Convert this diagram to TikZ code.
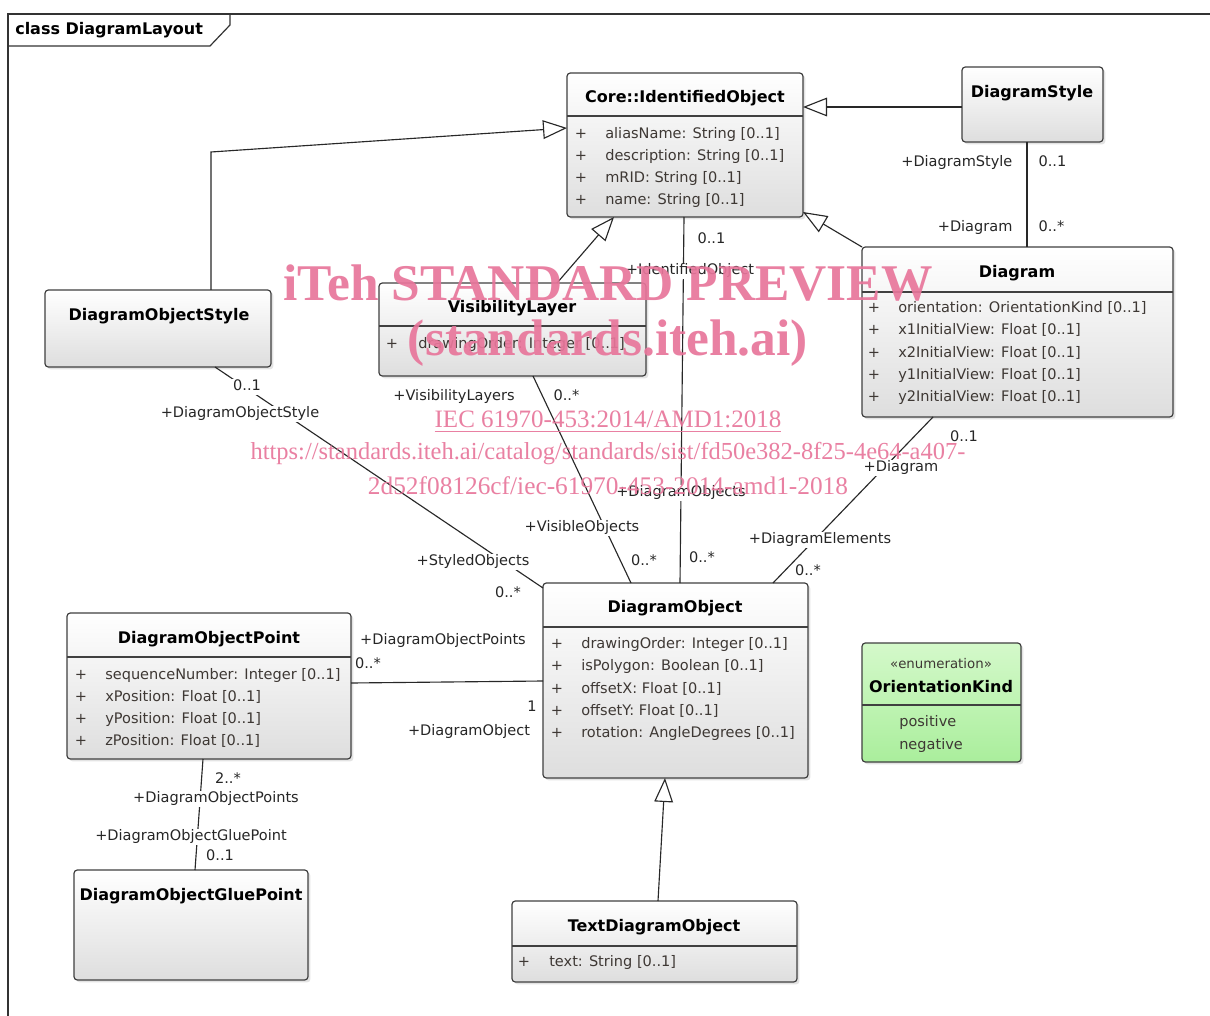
\documentclass[tikz,border=0pt]{standalone}
\usepackage{fontspec}
\setmainfont{DejaVu Sans}
\newfontfamily\wmfont{Liberation Serif}
\usetikzlibrary{arrows.meta,shadows,fit}

\definecolor{wm}{RGB}{232,118,155}
\definecolor{attrc}{RGB}{62,56,52}
\definecolor{boxline}{RGB}{64,64,64}
\definecolor{lnc}{RGB}{40,40,40}
\definecolor{gtop}{RGB}{212,249,202}
\definecolor{gbot}{RGB}{170,238,156}

\tikzset{
  cls/.style={draw=boxline, line width=0.9pt, rounded corners=2.5pt,
    top color=white, bottom color=black!13, inner sep=0pt, outer sep=0pt,
    drop shadow={shadow xshift=1.8pt, shadow yshift=-1.8pt, opacity=0.22}},
  enumcls/.style={cls, top color=gtop, bottom color=gbot},
  hdr/.style={draw=boxline, line width=0.9pt},
  ttl/.style={font=\bfseries\fontsize{12}{14}\selectfont, inner sep=0pt, text=black},
  attr/.style={font=\fontsize{10.9}{13}\selectfont, text=attrc, anchor=west, inner sep=0pt,
    text height=8pt, text depth=2.5pt},
  plus/.style={attr, anchor=center},
  lbl/.style={font=\fontsize{10.9}{13}\selectfont, inner sep=1pt, fill=white, text=black!85,
    text height=8pt, text depth=2.5pt},
  assoc/.style={draw=lnc, line width=0.85pt},
  gen/.style={assoc, -{Triangle[length=18pt,width=14pt,fill=white]}},
  frame/.style={draw=black!80, line width=0.9pt},
  wmtext/.style={text=wm, inner sep=0pt, opacity=0.92, font=\wmfont}
}

\begin{document}
\begin{tikzpicture}[x=0.75pt,y=-0.75pt]
\useasboundingbox (0,0) rectangle (1210,1016);
\fill[white] (0,0) rectangle (1210,1016);

% frame
\draw[frame] (8,1016) -- (8,14) -- (1210,14);
\draw[frame] (8,46) -- (210,46) -- (230,25) -- (230,14);
\node[font=\bfseries\fontsize{12}{14}\selectfont, anchor=west, inner sep=0pt] (frm) at (15,30) {class DiagramLayout};

% Core::IdentifiedObject
\node[cls, fit={(567,73)(803,217)}] (io) {};
\draw[hdr] (567,116) -- (803,116);
\node[ttl] (io-t) at (685,98) {Core::IdentifiedObject};
\foreach \t [count=\i] in {{aliasName: String [0..1]},{description: String [0..1]},{mRID: String [0..1]},{name: String [0..1]}}{
  \node[plus] (io-p\i) at (581,{135+22*(\i-1)}) {+};
  \node[attr] (io-a\i) at (605,{135+22*(\i-1)}) {\t};
}

% DiagramStyle
\node[cls, fit={(962,67)(1103,142)}] (ds) {};
\node[ttl] (ds-t) at (1032,93) {DiagramStyle};

% Diagram
\node[cls, fit={(862,247)(1173,417)}] (dg) {};
\draw[hdr] (862,292) -- (1173,292);
\node[ttl] (dg-t) at (1017,273) {Diagram};
\foreach \t [count=\i] in {{orientation: OrientationKind [0..1]},{x1InitialView: Float [0..1]},{x2InitialView: Float [0..1]},{y1InitialView: Float [0..1]},{y2InitialView: Float [0..1]}}{
  \node[plus] (dg-p\i) at (874,{309+22.2*(\i-1)}) {+};
  \node[attr] (dg-a\i) at (898,{309+22.2*(\i-1)}) {\t};
}

% VisibilityLayer
\node[cls, fit={(379,283)(646,376)}] (vl) {};
\draw[hdr] (379,326) -- (646,326);
\node[ttl] (vl-t) at (512,308) {VisibilityLayer};
\node[plus] (vl-p1) at (392,345) {+};
\node[attr] (vl-a1) at (418,345) {drawingOrder: Integer [0..1]};

% DiagramObjectStyle
\node[cls, fit={(45,290)(271,367)}] (dos) {};
\node[ttl] (dos-t) at (159,316) {DiagramObjectStyle};

% DiagramObject
\node[cls, fit={(543,583)(808,778)}] (do) {};
\draw[hdr] (543,627) -- (808,627);
\node[ttl] (do-t) at (675,608) {DiagramObject};
\foreach \t [count=\i] in {{drawingOrder: Integer [0..1]},{isPolygon: Boolean [0..1]},{offsetX: Float [0..1]},{offsetY: Float [0..1]},{rotation: AngleDegrees [0..1]}}{
  \node[plus] (do-p\i) at (557,{645+22.2*(\i-1)}) {+};
  \node[attr] (do-a\i) at (581,{645+22.2*(\i-1)}) {\t};
}

% DiagramObjectPoint
\node[cls, fit={(67,613)(351,759)}] (dop) {};
\draw[hdr] (67,657) -- (351,657);
\node[ttl] (dop-t) at (209,639) {DiagramObjectPoint};
\foreach \t [count=\i] in {{sequenceNumber: Integer [0..1]},{xPosition: Float [0..1]},{yPosition: Float [0..1]},{zPosition: Float [0..1]}}{
  \node[plus] (dop-p\i) at (81,{676+22*(\i-1)}) {+};
  \node[attr] (dop-a\i) at (105,{676+22*(\i-1)}) {\t};
}

% OrientationKind
\node[enumcls, fit={(862,643)(1021,762)}] (ok) {};
\draw[hdr] (862,705) -- (1021,705);
\node[inner sep=0pt, font=\fontsize{10}{12}\selectfont, text=attrc] (ok-s) at (941,664) {«enumeration»};
\node[ttl] (ok-t) at (941,687) {OrientationKind};
\node[attr] (ok-a1) at (899,723) {positive};
\node[attr] (ok-a2) at (899,746) {negative};

% DiagramObjectGluePoint
\node[cls, fit={(74,870)(308,980)}] (dogp) {};
\node[ttl] (dogp-t) at (191,896) {DiagramObjectGluePoint};

% TextDiagramObject
\node[cls, fit={(512,901)(797,982)}] (tdo) {};
\draw[hdr] (512,946) -- (797,946);
\node[ttl] (tdo-t) at (654,927) {TextDiagramObject};
\node[plus] (tdo-p1) at (524,963) {+};
\node[attr] (tdo-a1) at (549,963) {text: String [0..1]};

% generalizations
\draw[gen] (dos.north -| 211,0) -- (211,152) -- (io.west |- 0,128);
\draw[gen] (vl.north -| 557,0) -- (io.south -| 614,0);
\draw[gen] (dg.north west) -- (io.east |- 0,212);
\draw[gen] (ds.west |- 0,107) -- (io.east |- 0,107);
\draw[gen] (tdo.north -| 658,0) -- (do.south -| 665,0);

% associations
\draw[assoc] (ds.south -| 1027,0) -- (dg.north -| 1027,0);
\draw[assoc] (io.south -| 684,0) -- (do.north -| 680,0);
\draw[assoc] (vl.south -| 533,0) -- (do.north -| 631,0);
\draw[assoc] (dos.south -| 215,0) -- (do.west |- 0,588);
\draw[assoc] (dg.south -| 933,0) -- (do.north -| 773,0);
\draw[assoc] (dop.east |- 0,683) -- (do.west |- 0,681);
\draw[assoc] (dop.south -| 203,0) -- (dogp.north -| 195,0);

% labels
\node[lbl, anchor=east] (l1) at (1014,163) {+DiagramStyle};
\node[lbl, anchor=west] (l2) at (1037,163) {0..1};
\node[lbl, anchor=east] (l3) at (1014,228) {+Diagram};
\node[lbl, anchor=west] (l4) at (1037,228) {0..*};
\node[lbl, anchor=west] (l5) at (696,240) {0..1};
\node[lbl] (l6) at (690,271) {+IdentifiedObject};
\node[lbl] (l7) at (454,397) {+VisibilityLayers};
\node[lbl, anchor=west] (l8) at (552,397) {0..*};
\node[lbl] (l9) at (247,387) {0..1};
\node[lbl] (l10) at (240,414) {+DiagramObjectStyle};
\node[lbl] (l11) at (964,438) {0..1};
\node[lbl] (l12) at (901,468) {+Diagram};
\node[lbl] (l13) at (681,493) {+DiagramObjects};
\node[lbl] (l14) at (582,528) {+VisibleObjects};
\node[lbl] (l15) at (820,540) {+DiagramElements};
\node[lbl] (l16) at (473,562) {+StyledObjects};
\node[lbl] (l17) at (644,562) {0..*};
\node[lbl] (l18) at (702,559) {0..*};
\node[lbl] (l19) at (808,572) {0..*};
\node[lbl] (l20) at (508,594) {0..*};
\node[lbl] (l21) at (443,641) {+DiagramObjectPoints};
\node[lbl] (l22) at (368,665) {0..*};
\node[lbl] (l23) at (532,708) {1};
\node[lbl] (l24) at (469,732) {+DiagramObject};
\node[lbl] (l25) at (228,780) {2..*};
\node[lbl] (l26) at (216,799) {+DiagramObjectPoints};
\node[lbl] (l27) at (191,837) {+DiagramObjectGluePoint};
\node[lbl] (l28) at (220,857) {0..1};

% watermark
\node[wmtext] (wm1) at (608,283) {\resizebox{487pt}{!}{\bfseries iTeh STANDARD PREVIEW}};
\node[wmtext] (wm2) at (608,343) {\resizebox{300pt}{!}{\bfseries (standards.iteh.ai)}};
\node[wmtext] (wm3) at (608,422) {\resizebox{260pt}{!}{\underline{IEC 61970-453:2014/AMD1:2018}}};
\node[wmtext] (wm4) at (608,454) {\resizebox{536pt}{!}{https://standards.iteh.ai/catalog/standards/sist/fd50e382-8f25-4e64-a407-}};
\node[wmtext] (wm5) at (608,486) {\resizebox{360pt}{!}{2d52f08126cf/iec-61970-453-2014-amd1-2018}};
\end{tikzpicture}
\end{document}
